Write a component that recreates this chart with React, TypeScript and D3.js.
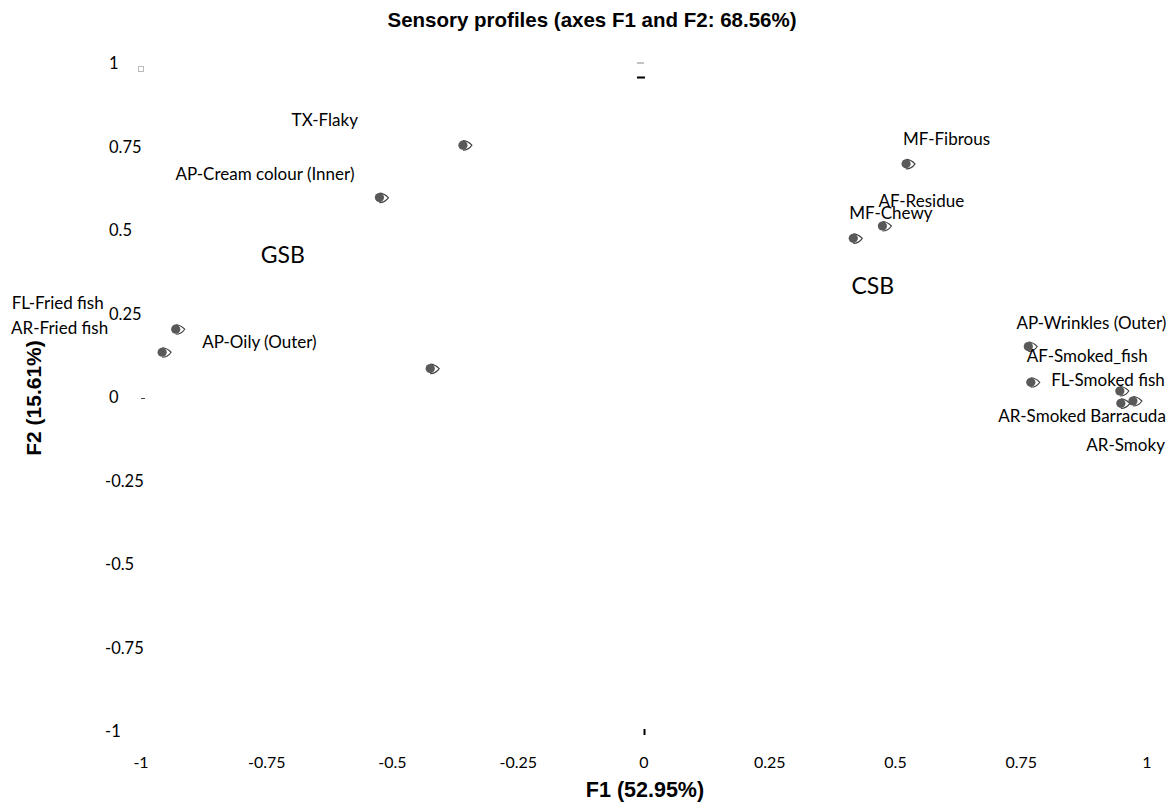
import React from 'react';
import * as d3 from 'd3';

const chartTitle = 'Sensory profiles (axes F1 and F2: 68.56%)';
const xTitle = 'F1 (52.95%)';
const yTitle = 'F2 (15.61%)';

const names = [
  'TX-Flaky', 'AP-Cream colour (Inner)', 'MF-Fibrous', 'AF-Residue', 'MF-Chewy',
  'FL-Fried fish', 'AR-Fried fish', 'AP-Oily (Outer)',
  'AP-Wrinkles (Outer)', 'AF-Smoked_fish', 'FL-Smoked fish', 'AR-Smoked Barracuda', 'AR-Smoky',
];
const f1 = [-0.360, -0.526, 0.521, 0.474, 0.416, -0.931, -0.958, -0.425, 0.764, 0.769, 0.946, 0.948, 0.972];
const f2 = [0.757, 0.600, 0.701, 0.515, 0.478, 0.206, 0.137, 0.088, 0.154, 0.047, 0.021, -0.016, -0.009];

const groups = ['GSB', 'CSB'];
const groupF1 = [-0.718, 0.455];
const groupF2 = [0.404, 0.311];

const tickValues = [-1, -0.75, -0.5, -0.25, 0, 0.25, 0.5, 0.75, 1];

// label placement relative to the marker (px), anchor
const labelOffsets: [number, number, 'start' | 'end'][] = [
  [-105, -19, 'end'],
  [-25, -18, 'end'],
  [-3, -19, 'start'],
  [-4, -19, 'start'],
  [-4, -19, 'start'],
  [-72, -20, 'end'],
  [-54, -18, 'end'],
  [-228, -21, 'start'],
  [138, -18, 'end'],
  [-4, -20, 'start'],
  [45, -5, 'end'],
  [45, 19, 'end'],
  [32, 50, 'end'],
];

const W = 1171;
const H = 802;

export default function App() {
  const x = d3.scaleLinear().domain([-1, 1]).range([141, 1147]);
  const y = d3.scaleLinear().domain([-1, 1]).range([732, 64]);
  const labelFont = 'Lato, "Open Sans", sans-serif';
  const boldFont = '"Liberation Sans", Arial, sans-serif';
  const markColor = '#595959';

  const eye = (cx: number, cy: number) =>
    `M${cx},${cy - 4.5} C${cx + 4},${cy - 4.5} ${cx + 7},${cy - 2} ${cx + 9},${cy} C${cx + 7},${cy + 3} ${cx + 4},${cy + 5} ${cx},${cy + 5}`;

  return (
    <svg width={W} height={H} style={{ position: 'absolute', left: 0, top: 0, background: '#fff' }}>
      <text x={592} y={27} textAnchor="middle" fontFamily={boldFont} fontWeight="bold" fontSize={20.5} fill="#000">
        {chartTitle}
      </text>

      {/* remnants of hidden axes */}
      <rect x={x(-1) - 2.5} y={y(1) + 2.5} width={5} height={5} fill="#fff" stroke="#bbb" strokeWidth={1} />
      <line x1={x(0) - 7} x2={x(0)} y1={y(1) - 1} y2={y(1) - 1} stroke="#888" strokeWidth={1} />
      <line x1={x(0) - 7} x2={x(0) + 1} y1={y(1) + 13.5} y2={y(1) + 13.5} stroke="#000" strokeWidth={2} />
      <line x1={x(0) + 0.5} x2={x(0) + 0.5} y1={y(-1) - 3} y2={y(-1) + 3} stroke="#000" strokeWidth={2} />
      <line x1={x(-1)} x2={x(-1) + 4} y1={y(0) + 0.5} y2={y(0) + 0.5} stroke="#444" strokeWidth={1} />

      {tickValues.map((t) => (
        <text key={`xt${t}`} x={x(t)} y={768} textAnchor="middle" fontFamily={labelFont} fontSize={16} fill="#000">
          {String(t)}
        </text>
      ))}
      {tickValues.map((t) => (
        <text key={`yt${t}`} x={t < 0 ? 105 : 109} y={y(t) + 5} textAnchor="start" fontFamily={labelFont} fontSize={16.5} fill="#000">
          {String(t)}
        </text>
      ))}

      <text x={x(0) + 1} y={797} textAnchor="middle" fontFamily={boldFont} fontWeight="bold" fontSize={21.5} fill="#000">
        {xTitle}
      </text>
      <text transform={`translate(41,${y(0)}) rotate(-90)`} textAnchor="middle" fontFamily={boldFont} fontWeight="bold" fontSize={21} fill="#000">
        {yTitle}
      </text>

      {groups.map((g, i) => (
        <text key={g} x={x(groupF1[i])} y={y(groupF2[i])} textAnchor="middle" fontFamily={labelFont} fontSize={23} fill="#000">
          {g}
        </text>
      ))}

      {names.map((n, i) => {
        const cx = x(f1[i]);
        const cy = y(f2[i]);
        return (
          <g key={n}>
            <path d={eye(cx, cy)} fill="none" stroke="#404040" strokeWidth={1.1} />
            <circle cx={cx} cy={cy} r={4.6} fill={markColor} />
          </g>
        );
      })}

      {names.map((n, i) => {
        const [dx, dy, anchor] = labelOffsets[i];
        return (
          <text key={`l${n}`} x={x(f1[i]) + dx} y={y(f2[i]) + dy} textAnchor={anchor} fontFamily={labelFont} fontSize={17} fill="#000">
            {n}
          </text>
        );
      })}
    </svg>
  );
}
